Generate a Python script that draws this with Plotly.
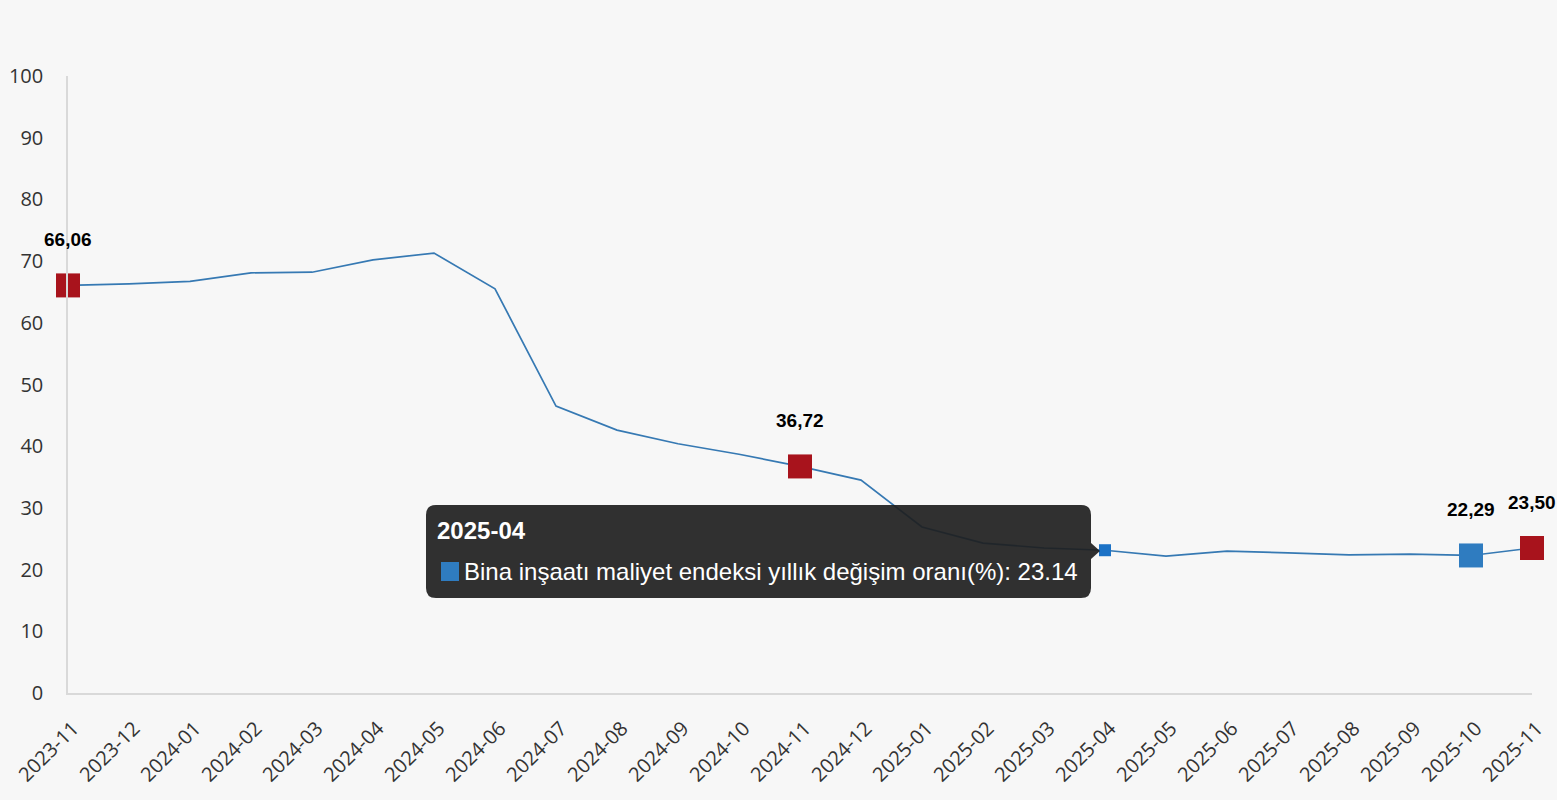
import plotly.graph_objects as go

months = ["2023-11", "2023-12", "2024-01", "2024-02", "2024-03", "2024-04", "2024-05",
          "2024-06", "2024-07", "2024-08", "2024-09", "2024-10", "2024-11", "2024-12",
          "2025-01", "2025-02", "2025-03", "2025-04", "2025-05", "2025-06", "2025-07",
          "2025-08", "2025-09", "2025-10", "2025-11"]
values = [66.06, 66.3, 66.7, 68.1, 68.2, 70.2, 71.3, 65.5, 46.5, 42.6, 40.4, 38.7,
          36.72, 34.5, 26.9, 24.3, 23.5, 23.14, 22.2, 23.0, 22.7, 22.4, 22.5, 22.29, 23.50]
series_name = "Bina inşaatı maliyet endeksi yıllık değişim oranı(%)"

red_months = ["2023-11", "2024-11", "2025-11"]
blue_months = ["2025-10"]
hover_month = "2025-04"
y_ticks = [0, 10, 20, 30, 40, 50, 60, 70, 80, 90, 100]

val = dict(zip(months, values))

LINE = "#3679B3"
RED = "#A8131C"
BLUE = "#2F7CC0"

W, H = 1557, 800
ML, MR, MT, MB = 68, 25, 76, 107
PW, PH = W - ML - MR, H - MT - MB


def px(x):
    return (x - ML) / PW


def py(y):
    return (H - MB - y) / PH


fig = go.Figure()
fig.add_trace(go.Scatter(x=months, y=values, mode="lines",
                         line=dict(color=LINE, width=1.7), name=series_name,
                         hoverinfo="skip", cliponaxis=False))
fig.add_trace(go.Scatter(x=red_months, y=[val[m] for m in red_months], mode="markers",
                         marker=dict(symbol="square", size=24, color=RED),
                         cliponaxis=False, hoverinfo="skip"))
fig.add_trace(go.Scatter(x=blue_months, y=[val[m] for m in blue_months], mode="markers",
                         marker=dict(symbol="square", size=24, color=BLUE),
                         cliponaxis=False, hoverinfo="skip"))
fig.add_trace(go.Scatter(x=[hover_month], y=[val[hover_month]], mode="markers",
                         marker=dict(symbol="square", size=12, color="#1C72C6"),
                         cliponaxis=False, hoverinfo="skip"))

annotations = []
for m in red_months + blue_months:
    annotations.append(dict(x=m, y=val[m], xref="x", yref="y",
                            text="<b>" + f"{val[m]:.2f}".replace(".", ",") + "</b>",
                            showarrow=False, yshift=46,
                            font=dict(family="Liberation Sans", size=19, color="#000")))

# tooltip
bx0, bx1, by0, by1, r = 426, 1091, 505, 598, 10
rx, ry = r / PW, r / PH
x0, x1, y0, y1 = px(bx0), px(bx1), py(by0), py(by1)
ax_tip, ay_tip = px(1100), py(551)
path = (f"M {x0+rx},{y0} L {x1-rx},{y0} Q {x1},{y0} {x1},{y0-ry} "
        f"L {x1},{py(543)} L {ax_tip},{ay_tip} L {x1},{py(559)} "
        f"L {x1},{y1+ry} Q {x1},{y1} {x1-rx},{y1} L {x0+rx},{y1} Q {x0},{y1} {x0},{y1+ry} "
        f"L {x0},{y0-ry} Q {x0},{y0} {x0+rx},{y0} Z")
shapes = [
    dict(type="path", xref="paper", yref="paper", path=path,
         fillcolor="rgba(30,30,30,0.92)", line=dict(width=0), layer="above"),
    dict(type="rect", xref="paper", yref="paper", x0=px(441), x1=px(459),
         y0=py(562), y1=py(581), fillcolor=BLUE, line=dict(width=0), layer="above"),
]
annotations.append(dict(x=px(435), y=py(530), xref="paper", yref="paper",
                        xanchor="left", yanchor="middle", showarrow=False,
                        text=f"<b>{hover_month}</b>",
                        font=dict(family="Liberation Sans", size=24, color="#fff")))
annotations.append(dict(x=px(462), y=py(571), xref="paper", yref="paper",
                        xanchor="left", yanchor="middle", showarrow=False,
                        text=f"{series_name}: {val[hover_month]:.2f}",
                        font=dict(family="Liberation Sans", size=24, color="#fff")))

fig.update_layout(
    width=W, height=H,
    margin=dict(l=ML, r=MR, t=MT, b=MB),
    paper_bgcolor="#F7F7F7", plot_bgcolor="#F7F7F7",
    showlegend=False,
    shapes=shapes, annotations=annotations,
    xaxis=dict(type="category", range=[0, len(months) - 1], showgrid=False,
               showline=True, linecolor="#D9D9D9", linewidth=1.5, zeroline=False,
               tickangle=-45, ticks="", automargin=False,
               ticklabelstandoff=14, ticklabelshift=5,
               tickfont=dict(family="Open Sans", size=20, color="#333"),
               fixedrange=True),
    yaxis=dict(range=[0, 100], tickvals=y_ticks, showgrid=False, zeroline=False,
               showline=True, linecolor="#D9D9D9", linewidth=1.5, ticks="",
               ticklabelstandoff=19, automargin=False,
               tickfont=dict(family="Open Sans", size=20, color="#333"), fixedrange=True),
    hovermode=False,
)

fig.write_html("out.html")
